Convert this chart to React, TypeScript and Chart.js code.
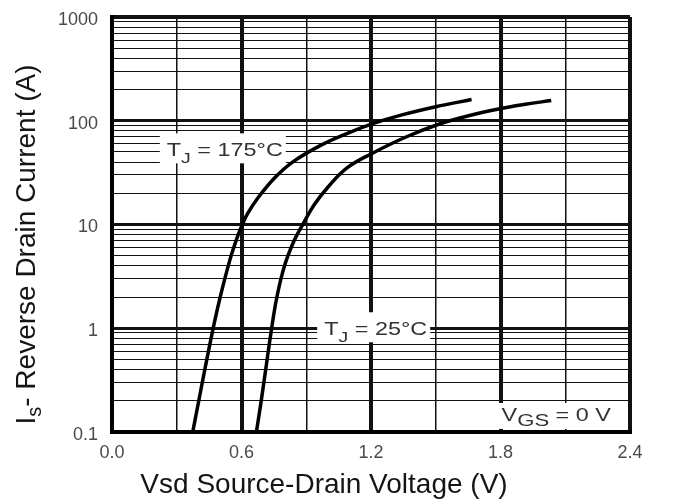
import { useEffect, useRef } from 'react';
import { Chart, registerables } from 'chart.js';

Chart.register(...registerables);

// ---- Data ----
const vsd175 = [0.374, 0.402, 0.429, 0.466, 0.498, 0.545, 0.582, 0.605, 0.628, 0.674, 0.752, 0.835, 0.96, 1.085, 1.205, 1.343, 1.5, 1.666];
const is175 = [0.1, 0.2, 0.39, 0.94, 1.87, 4.46, 7.69, 10.1, 12.7, 17.8, 27.9, 39.7, 56.9, 74.8, 93.3, 113.8, 136.5, 160];
const vsd25 = [0.669, 0.692, 0.711, 0.738, 0.764, 0.799, 0.843, 0.885, 0.936, 1.001, 1.089, 1.209, 1.362, 1.514, 1.666, 1.791, 1.915, 2.035];
const is25 = [0.1, 0.204, 0.385, 0.948, 2.0, 3.98, 6.93, 10.1, 15.4, 23.0, 35.1, 48.9, 69.7, 92.5, 113.5, 129.7, 143.9, 156.7];

const xGridValues = [0, 0.3, 0.6, 0.9, 1.2, 1.5, 1.8, 2.1, 2.4];
const xTickLabels = ['0.0', '', '0.6', '', '1.2', '', '1.8', '', '2.4'];
const yDecades = [0.1, 1, 10, 100, 1000];
const yTickLabels = ['0.1', '1', '10', '100', '1000'];
const yMinorFactors = [2, 3, 4, 5, 6, 7, 8, 9];

const xTitle = 'Vsd Source-Drain Voltage (V)';
const yTitleMain = 'I';
const yTitleSub = 's';
const yTitleRest = '- Reverse Drain Current (A)';

const annotations = [
  { x: 0.254, y: 53, main: 'T', sub: 'J', rest: ' = 175\u00B0C', subSize: 15, subShift: 7, padL: 7, padR: 3, padT: 16, padB: 14 },
  { x: 0.983, y: 1.0, main: 'T', sub: 'J', rest: ' = 25\u00B0C', subSize: 15, subShift: 7, padL: 7, padR: 3, padT: 16, padB: 14 },
  { x: 1.805, y: 0.146, main: 'V', sub: 'GS', rest: ' = 0 V', subSize: 17, subShift: 5, padL: 63, padR: 14, padT: 12, padB: 14 },
];

const yGridValues: number[] = [];
yDecades.forEach((d, i) => {
  yGridValues.push(d);
  if (i < yDecades.length - 1) yMinorFactors.forEach((f) => yGridValues.push(+(d * f).toPrecision(3)));
});

const FONT = "'Liberation Sans', Arial, sans-serif";
const STRETCH = 1.3;

const decadeIndex = (v: number) => yDecades.findIndex((d) => Math.abs(d - v) / d < 1e-6);

const labelPlugin = {
  id: 'curveLabels',
  beforeDatasetsDraw(chart: any) {
    const { ctx, chartArea, scales } = chart;
    const xs = scales.x;
    const ys = scales.y;
    annotations.forEach((a) => {
      const px = xs.getPixelForValue(a.x);
      const py = ys.getPixelForValue(a.y);
      ctx.save();
      ctx.font = `18px ${FONT}`;
      const wMain = ctx.measureText(a.main).width;
      const wRest = ctx.measureText(a.rest).width;
      ctx.font = `${a.subSize}px ${FONT}`;
      const wSub = ctx.measureText(a.sub).width;
      const total = (wMain + wSub + wRest) * STRETCH;
      const left = Math.max(px - a.padL, chartArea.left + 3);
      const right = Math.min(px + total + a.padR, chartArea.right - 3);
      const top = py - a.padT;
      const bottom = Math.min(py + a.padB, chartArea.bottom - 3);
      ctx.fillStyle = '#ffffff';
      ctx.fillRect(left, top, right - left, bottom - top);
      ctx.translate(px, py + 6.5);
      ctx.scale(STRETCH, 1);
      ctx.fillStyle = '#333333';
      ctx.textBaseline = 'alphabetic';
      ctx.textAlign = 'left';
      ctx.font = `18px ${FONT}`;
      ctx.fillText(a.main, 0, 0);
      ctx.font = `${a.subSize}px ${FONT}`;
      ctx.fillText(a.sub, wMain, a.subShift);
      ctx.font = `18px ${FONT}`;
      ctx.fillText(a.rest, wMain + wSub, 0);
      ctx.restore();
    });
  },
  afterDraw(chart: any) {
    const { ctx, chartArea } = chart;
    ctx.save();
    ctx.fillStyle = '#151515';
    ctx.textBaseline = 'alphabetic';
    ctx.textAlign = 'center';
    ctx.font = `28px ${FONT}`;
    const cx = (chartArea.left + chartArea.right) / 2 - 47;
    ctx.fillText(xTitle, cx, chartArea.bottom + 61);

    // rotated y title with subscript
    ctx.textAlign = 'left';
    const wMain = ctx.measureText(yTitleMain).width;
    const wRest = ctx.measureText(yTitleRest).width;
    ctx.font = `20px ${FONT}`;
    const wSub = ctx.measureText(yTitleSub).width;
    const total = wMain + wSub + wRest;
    const cy = (chartArea.top + chartArea.bottom) / 2 + 20;
    ctx.translate(35, cy);
    ctx.rotate(-Math.PI / 2);
    const start = -total / 2;
    ctx.font = `28px ${FONT}`;
    ctx.fillText(yTitleMain, start, 0);
    ctx.font = `20px ${FONT}`;
    ctx.fillText(yTitleSub, start + wMain, 6);
    ctx.font = `28px ${FONT}`;
    ctx.fillText(yTitleRest, start + wMain + wSub, 0);
    ctx.restore();
  },
};

export default function App() {
  const canvasRef = useRef<HTMLCanvasElement | null>(null);

  useEffect(() => {
    if (!canvasRef.current) return;
    const chart = new Chart(canvasRef.current, {
      type: 'line',
      data: {
        datasets: [
          {
            label: 'TJ = 175°C',
            data: vsd175.map((v, i) => ({ x: v, y: is175[i] })),
            borderColor: '#000000',
            borderWidth: 3.5,
            pointRadius: 0,
            tension: 0.4,
            fill: false,
          },
          {
            label: 'TJ = 25°C',
            data: vsd25.map((v, i) => ({ x: v, y: is25[i] })),
            borderColor: '#000000',
            borderWidth: 3.5,
            pointRadius: 0,
            tension: 0.4,
            fill: false,
          },
        ],
      },
      options: {
        animation: false,
        responsive: false,
        devicePixelRatio: 1,
        layout: { padding: { top: 17, right: 50, left: 0, bottom: 0 } },
        plugins: {
          legend: { display: false },
          tooltip: { enabled: false },
          title: { display: false },
        },
        scales: {
          x: {
            type: 'linear',
            min: 0,
            max: 2.4,
            afterBuildTicks: (scale: any) => {
              scale.ticks = xGridValues.map((v) => ({ value: v }));
            },
            afterFit: (scale: any) => {
              scale.height = 70;
              scale.paddingLeft = 0;
              scale.paddingRight = 0;
            },
            grid: {
              color: '#111111',
              drawTicks: false,
              lineWidth: (ctx: any) => {
                const i = ctx.index;
                if (i === 0 || i === xGridValues.length - 1) return 4;
                return i % 2 === 0 ? 4 : 1.5;
              },
            },
            border: { display: true, color: '#000000', width: 4 },
            ticks: {
              autoSkip: false,
              maxRotation: 0,
              padding: 10,
              color: '#4a4a4a',
              font: { family: FONT, size: 18 },
              callback: (_v: any, index: number) => xTickLabels[index] ?? '',
            },
          },
          y: {
            type: 'logarithmic',
            min: 0.1,
            max: 1000,
            afterBuildTicks: (scale: any) => {
              scale.ticks = yGridValues.map((v) => ({ value: v }));
            },
            afterFit: (scale: any) => {
              scale.width = 112;
              scale.paddingTop = 0;
              scale.paddingBottom = 0;
            },
            grid: {
              color: '#111111',
              drawTicks: false,
              lineWidth: (ctx: any) => {
                const v = ctx.tick ? ctx.tick.value : 0;
                if (v === 1000) return 4;
                return decadeIndex(v) >= 0 ? 3 : 1;
              },
            },
            border: { display: true, color: '#000000', width: 4 },
            ticks: {
              autoSkip: false,
              padding: 14,
              labelOffset: 3,
              color: '#4a4a4a',
              font: { family: FONT, size: 18 },
              callback: (v: any) => {
                const i = decadeIndex(Number(v));
                return i >= 0 ? yTickLabels[i] : '';
              },
            },
          },
        },
      },
      plugins: [labelPlugin],
    } as any);
    return () => chart.destroy();
  }, []);

  return (
    <div style={{ position: 'fixed', left: 0, top: 0, width: 680, height: 502, background: '#ffffff' }}>
      <canvas ref={canvasRef} width={680} height={502} style={{ width: 680, height: 502 }} />
    </div>
  );
}
